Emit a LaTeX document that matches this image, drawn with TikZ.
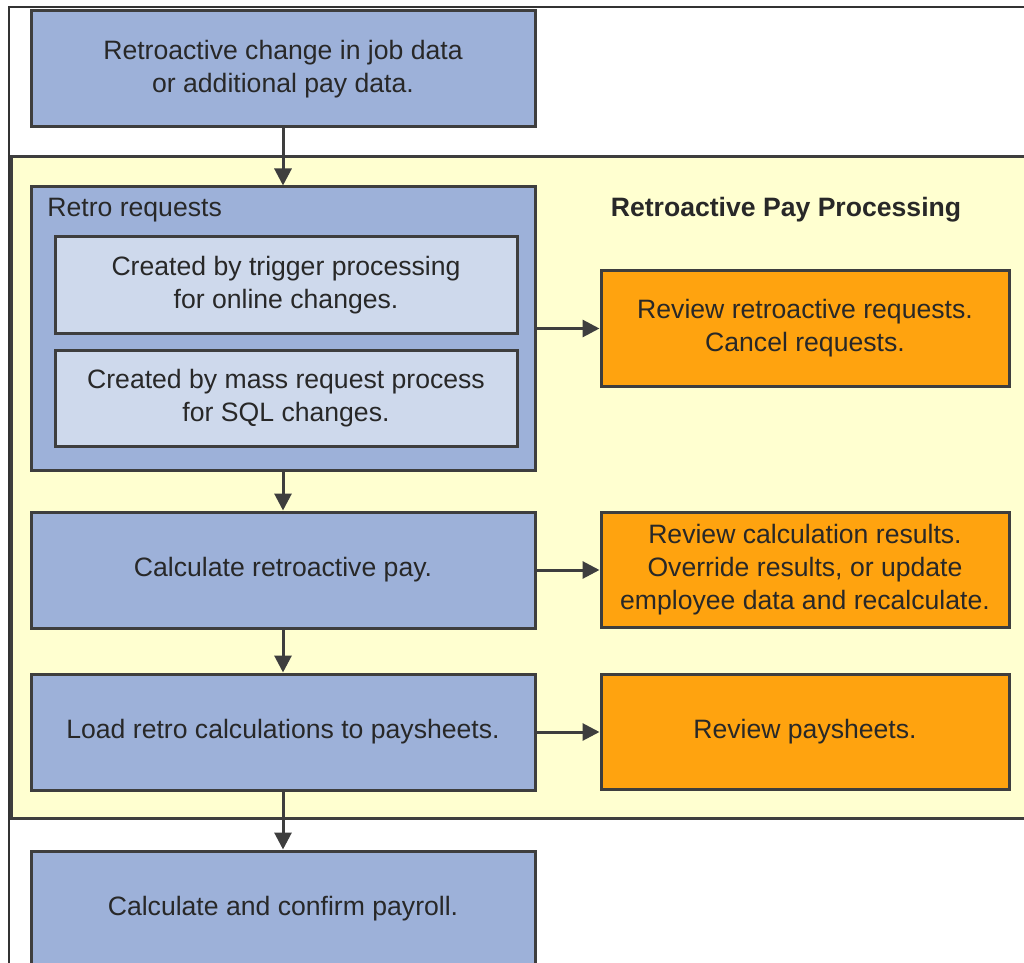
\documentclass[tikz,border=0pt]{standalone}
\usepackage{fontspec}
\setmainfont{Liberation Sans}
\usetikzlibrary{arrows.meta}

\definecolor{boxblue}{RGB}{157,177,217}
\definecolor{lightblue}{RGB}{206,217,236}
\definecolor{paleyellow}{RGB}{255,255,208}
\definecolor{revieworange}{RGB}{255,163,15}
\definecolor{edgegray}{RGB}{62,62,62}
\definecolor{textgray}{RGB}{40,40,40}

\begin{document}
\begin{tikzpicture}[x=0.5pt,y=-0.5pt,
  font=\fontsize{13.3}{16.5}\selectfont,
  stepbox/.style={draw=edgegray,line width=1.5pt,fill=boxblue,text=textgray,
    minimum width=252pt,minimum height=58pt,align=center,inner sep=0pt},
  subbox/.style={draw=edgegray,line width=1.5pt,fill=lightblue,text=textgray,
    minimum width=231pt,minimum height=48pt,align=center,inner sep=0pt},
  reviewbox/.style={draw=edgegray,line width=1.5pt,fill=revieworange,text=textgray,
    minimum width=204pt,minimum height=57.5pt,align=center,inner sep=0pt},
  flow/.style={draw=edgegray,line width=1.5pt,-{Triangle[length=8.5pt,width=8.5pt]}}]

% Page size
\useasboundingbox (0,0) rectangle (1024,963);
\clip (0,0) rectangle (1024,963);

% Outer frame
\draw[black!80,line width=0.6pt] (9,970) -- (9,7) -- (1030,7);

% Processing area
\draw[draw=edgegray,line width=1.5pt,fill=paleyellow] (11,157) rectangle (1040,818);
\node[font=\fontsize{13.3}{16.5}\selectfont\bfseries,text=textgray] (title) at (786,210) {Retroactive Pay Processing};

% Main steps
\node[stepbox] (change) at (283,69) {Retroactive change in job data\\or additional pay data.};
\node[stepbox,minimum height=141.5pt] (retro) at (283,328.5) {};
\node[anchor=west,text=textgray,inner sep=0pt] (retrolbl) at (47,210) {Retro requests};
\node[subbox] (trigger) at (286,285) {Created by trigger processing\\for online changes.};
\node[subbox] (mass) at (286,398) {Created by mass request process\\for SQL changes.};
\node[stepbox] (calc) at (283,570) {Calculate retroactive pay.};
\node[stepbox] (load) at (283,732) {Load retro calculations to paysheets.};
\node[stepbox] (payroll) at (283,909) {Calculate and confirm payroll.};

% Review steps
\node[reviewbox] (revreq) at (805,328.5) {Review retroactive requests.\\Cancel requests.};
\node[reviewbox] (revcalc) at (805,570) {Review calculation results.\\Override results, or update\\employee data and recalculate.};
\node[reviewbox] (revsheet) at (805,732) {Review paysheets.};

% Arrows
\draw[flow] (change) -- (retro);
\draw[flow] (retro) -- (calc);
\draw[flow] (calc) -- (load);
\draw[flow] (load) -- (payroll);
\draw[flow] (retro) -- (revreq);
\draw[flow] (calc) -- (revcalc);
\draw[flow] (load) -- (revsheet);
\end{tikzpicture}
\end{document}
